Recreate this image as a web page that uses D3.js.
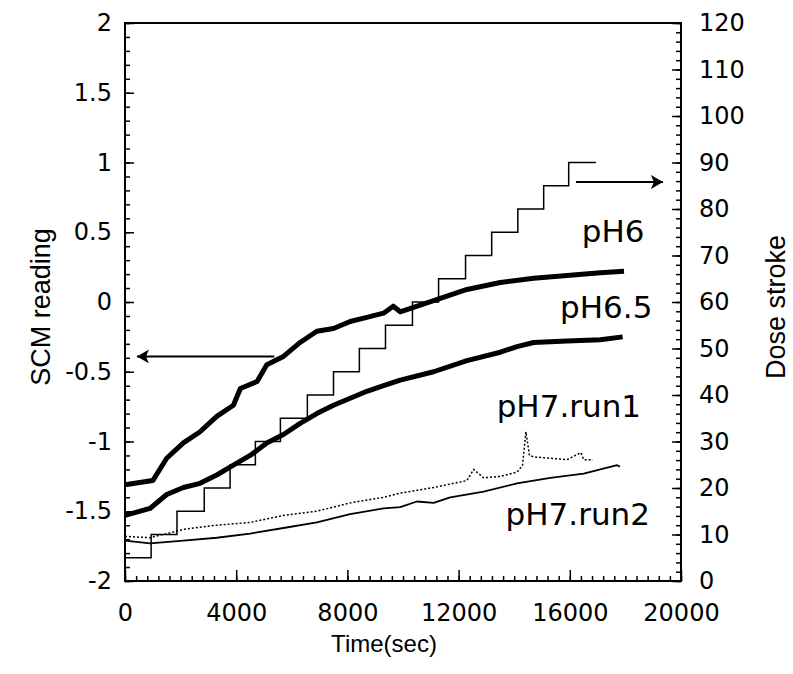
<!DOCTYPE html>
<html>
<head>
<meta charset="utf-8">
<script src="https://cdn.jsdelivr.net/npm/d3@7"></script>
<style>
  body { margin: 0; background: #fff; }
</style>
</head>
<body>
<div class="container"></div>
<script>
// dose stroke steps (right axis)
let doseTimes = [0, 940, 1870, 2850, 3780, 4690, 5590, 6560, 7500, 8430, 9370, 10340, 11280, 12250, 13190, 14130, 15060, 15960, 16940];
let doseStrokes = [5, 10, 15, 20, 25, 30, 35, 40, 45, 50, 55, 60, 65, 70, 75, 80, 85, 90, 90];

// SCM reading curves (left axis)
let ph6Times = [0, 1000, 1500, 2100, 2700, 3300, 3900, 4150, 4750, 5100, 5700, 6300, 6900, 7500, 8100, 8700, 9300, 9650, 9900, 11100, 12300, 13500, 14700, 15900, 17100, 17950];
let ph6Values = [-1.31, -1.28, -1.12, -1.01, -0.93, -0.82, -0.74, -0.62, -0.57, -0.45, -0.39, -0.29, -0.21, -0.19, -0.14, -0.11, -0.08, -0.03, -0.07, 0.01, 0.09, 0.14, 0.17, 0.19, 0.21, 0.22];

let ph65Times = [0, 900, 1500, 2100, 2700, 3300, 3900, 4500, 5100, 5700, 6300, 6900, 7500, 8100, 8700, 9300, 9900, 11100, 12300, 13500, 14100, 14700, 15900, 17100, 17900];
let ph65Values = [-1.53, -1.48, -1.38, -1.33, -1.30, -1.24, -1.17, -1.10, -1.01, -0.95, -0.87, -0.80, -0.74, -0.69, -0.64, -0.60, -0.56, -0.50, -0.42, -0.36, -0.32, -0.29, -0.28, -0.27, -0.25];

let ph7r1Times = [0, 900, 2100, 3300, 4500, 5700, 6900, 8100, 9300, 9900, 11100, 12300, 12540, 12900, 13500, 14100, 14300, 14420, 14550, 14700, 15300, 15900, 16400, 16500, 16830];
let ph7r1Values = [-1.68, -1.69, -1.63, -1.60, -1.58, -1.53, -1.50, -1.44, -1.40, -1.37, -1.33, -1.28, -1.20, -1.26, -1.25, -1.22, -1.17, -0.93, -1.10, -1.11, -1.12, -1.13, -1.08, -1.13, -1.13];

let ph7r2Times = [0, 900, 2100, 3300, 4500, 5700, 6900, 8100, 9300, 9900, 10500, 11100, 11700, 12900, 14100, 15300, 16500, 17700, 17800];
let ph7r2Values = [-1.71, -1.73, -1.71, -1.69, -1.66, -1.62, -1.58, -1.52, -1.48, -1.47, -1.43, -1.44, -1.40, -1.36, -1.30, -1.26, -1.23, -1.17, -1.18];

// tick labels
let xTicks = [0, 4000, 8000, 12000, 16000, 20000];
let leftTicks = [-2, -1.5, -1, -0.5, 0, 0.5, 1, 1.5, 2];
let rightTicks = [0, 10, 20, 30, 40, 50, 60, 70, 80, 90, 100, 110, 120];

let margin = { top: 23, right: 112, bottom: 93, left: 125 };
let width = 793 - margin.left - margin.right;
let height = 674 - margin.top - margin.bottom;

let svg = d3
  .select('.container')
  .append('svg')
  .attr('width', width + margin.left + margin.right)
  .attr('height', height + margin.top + margin.bottom);

let g = svg
  .append('g')
  .attr('transform', 'translate(' + margin.left + ',' + margin.top + ')');

let xScale = d3.scaleLinear().domain([0, 20000]).range([0, width]);
let yLeft = d3.scaleLinear().domain([-2, 2]).range([height, 0]);
let yRight = d3.scaleLinear().domain([0, 120]).range([height, 0]);

let tickFont = '"DejaVu Sans", sans-serif';

// tick labels (outside the frame)
function labelAxis(axis, tr) {
  let a = g.append('g').attr('transform', tr).call(axis);
  a.select('.domain').remove();
  a.selectAll('text').style('font-family', tickFont).style('font-size', '24px').attr('fill', '#000');
  return a;
}
labelAxis(d3.axisLeft(yLeft).tickValues(leftTicks).tickSize(0).tickPadding(13).tickFormat((d) => String(d)), 'translate(0,0)');
labelAxis(d3.axisRight(yRight).tickValues(rightTicks).tickSize(0).tickPadding(18).tickFormat(d3.format('d')), 'translate(' + width + ',0)');
labelAxis(d3.axisBottom(xScale).tickValues(xTicks).tickSize(0).tickPadding(23).tickFormat(d3.format('d')), 'translate(0,' + height + ')');

// inward ticks
function tickAxis(axis, tr) {
  let a = g.append('g').attr('transform', tr).call(axis.tickFormat(''));
  a.select('.domain').remove();
  a.selectAll('line').attr('stroke', '#000').attr('stroke-width', 1.5);
}
tickAxis(d3.axisRight(yLeft).tickValues(d3.range(-20, 21).map((d) => d / 10)).tickSize(5), 'translate(0,0)');
tickAxis(d3.axisRight(yLeft).tickValues(leftTicks).tickSize(9), 'translate(0,0)');
tickAxis(d3.axisLeft(yRight).tickValues(d3.range(0, 121, 2)).tickSize(5), 'translate(' + width + ',0)');
tickAxis(d3.axisLeft(yRight).tickValues(rightTicks).tickSize(9), 'translate(' + width + ',0)');
tickAxis(d3.axisTop(xScale).tickValues(d3.range(0, 20001, 400)).tickSize(5), 'translate(0,' + height + ')');
tickAxis(d3.axisTop(xScale).tickValues(xTicks).tickSize(11), 'translate(0,' + height + ')');

// frame
g.append('rect')
  .attr('width', width)
  .attr('height', height)
  .attr('fill', 'none')
  .attr('stroke', '#000')
  .attr('stroke-width', 2);

// dose steps
let doseData = doseTimes.map((t, i) => ({ t: t, v: doseStrokes[i] }));
g.append('path')
  .datum(doseData)
  .attr('fill', 'none')
  .attr('stroke', '#000')
  .attr('stroke-width', 1.5)
  .attr('d', d3.line().curve(d3.curveStepAfter).x((d) => xScale(d.t)).y((d) => yRight(d.v)));

// SCM curves
let scmLine = d3.line().x((d) => xScale(d.t)).y((d) => yLeft(d.v));
let series = [
  { t: ph6Times, v: ph6Values, w: 5, dash: null },
  { t: ph65Times, v: ph65Values, w: 5, dash: null },
  { t: ph7r1Times, v: ph7r1Values, w: 1.5, dash: '2,2' },
  { t: ph7r2Times, v: ph7r2Values, w: 1.8, dash: null }
];
series.forEach((s) => {
  let pts = s.t.map((t, i) => ({ t: t, v: s.v[i] }));
  g.append('path')
    .datum(pts)
    .attr('fill', 'none')
    .attr('stroke', '#000')
    .attr('stroke-width', s.w)
    .attr('stroke-linejoin', 'round')
    .attr('stroke-dasharray', s.dash)
    .attr('d', scmLine);
});

// series labels
let labels = [
  { text: 'pH6', t: 16430, v: 0.43 },
  { text: 'pH6.5', t: 15650, v: -0.115 },
  { text: 'pH7.run1', t: 13370, v: -0.825 },
  { text: 'pH7.run2', t: 13690, v: -1.6 }
];
g.selectAll('.lbl')
  .data(labels)
  .enter()
  .append('text')
  .attr('class', 'lbl')
  .attr('x', (d) => xScale(d.t))
  .attr('y', (d) => yLeft(d.v))
  .style('font-family', tickFont)
  .style('font-size', '31px')
  .text((d) => d.text);

// arrows
svg.append('defs')
  .append('marker')
  .attr('id', 'head')
  .attr('viewBox', '0 0 12 14')
  .attr('refX', 12)
  .attr('refY', 7)
  .attr('markerWidth', 12)
  .attr('markerHeight', 14)
  .attr('markerUnits', 'userSpaceOnUse')
  .attr('orient', 'auto')
  .append('path')
  .attr('d', 'M0,0 L12,7 L0,14 L3,7 Z')
  .attr('fill', '#000');

g.append('line')
  .attr('x1', xScale(5370)).attr('x2', xScale(430))
  .attr('y1', yLeft(-0.39)).attr('y2', yLeft(-0.39))
  .attr('stroke', '#000').attr('stroke-width', 2)
  .attr('marker-end', 'url(#head)');

g.append('line')
  .attr('x1', xScale(16220)).attr('x2', xScale(19350))
  .attr('y1', yRight(85.8)).attr('y2', yRight(85.8))
  .attr('stroke', '#000').attr('stroke-width', 2)
  .attr('marker-end', 'url(#head)');

// axis titles
let titleFont = '"Liberation Sans", Arial, sans-serif';
svg.append('text')
  .attr('transform', 'translate(50,307) rotate(-90)')
  .attr('text-anchor', 'middle')
  .style('font-family', titleFont)
  .style('font-size', '27px')
  .text('SCM reading');

svg.append('text')
  .attr('transform', 'translate(785,307) rotate(-90)')
  .attr('text-anchor', 'middle')
  .style('font-family', titleFont)
  .style('font-size', '27px')
  .text('Dose stroke');

svg.append('text')
  .attr('x', 384)
  .attr('y', 652)
  .attr('text-anchor', 'middle')
  .style('font-family', titleFont)
  .style('font-size', '24px')
  .text('Time(sec)');
</script>
</body>
</html>
